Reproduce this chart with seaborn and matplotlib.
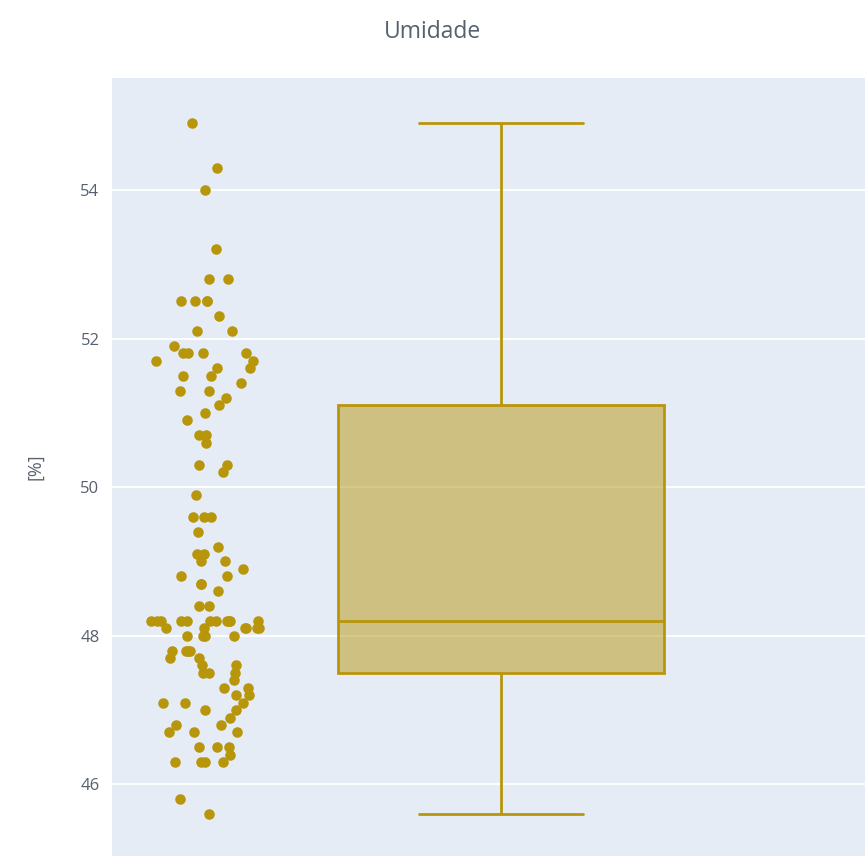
import numpy as np
import pandas as pd
import matplotlib
matplotlib.use("Agg")
import matplotlib.pyplot as plt
import seaborn as sns

# Umidade relativa medida (%)
umidade = [
    54.9, 54.3, 54.0, 53.2, 52.8, 52.8, 52.5, 52.5, 52.5, 52.5,
    52.3, 52.1, 52.1, 51.9, 51.8, 51.8, 51.8, 51.8, 51.7, 51.7,
    51.6, 51.6, 51.5, 51.5, 51.4, 51.3, 51.3, 51.2, 51.1, 51.0,
    50.9, 50.7, 50.7, 50.6, 50.3, 50.3, 50.2, 49.9, 49.6, 49.6,
    49.6, 49.4, 49.2, 49.1, 49.1, 49.0, 49.0, 48.9, 48.8, 48.8,
    48.7, 48.7, 48.6, 48.4, 48.4,
    48.2, 48.2, 48.2, 48.2, 48.2, 48.2, 48.2, 48.2, 48.2, 48.2, 48.2,
    48.1, 48.1, 48.1, 48.1, 48.1, 48.1,
    48.0, 48.0, 48.0, 48.0,
    47.8, 47.8, 47.8, 47.8, 47.7, 47.7, 47.6, 47.6, 47.5, 47.5,
    47.5, 47.4, 47.3, 47.3, 47.2, 47.2, 47.1, 47.1, 47.1, 47.0,
    47.0, 46.9, 46.8, 46.8, 46.7, 46.7, 46.7, 46.5, 46.5, 46.5,
    46.4, 46.3, 46.3, 46.3, 46.3, 45.8, 45.6,
]
titulo = "Umidade"
rotulo_y = "[%]"
ticks_y = [46, 48, 50, 52, 54]

cor = "#B8960B"
fundo = "#E5ECF6"
cor_texto = "#56606e"

n = len(umidade)
df_pontos = pd.DataFrame({"grupo": ["pontos"] * n, "valor": umidade})
df_caixa = pd.DataFrame({"grupo": ["caixa"] * n, "valor": umidade})
ordem = ["pontos", "caixa"]

sns.set_theme(style="white")
plt.rcParams["font.family"] = ["Open Sans", "DejaVu Sans"]

fig = plt.figure(figsize=(8.65, 8.56), dpi=100)
ax = fig.add_axes([112 / 865, 0.0, 753 / 865, 778 / 856])
ax.set_facecolor(fundo)

np.random.seed(7)
sns.stripplot(data=df_pontos, x="grupo", y="valor", order=ordem, ax=ax,
              color=cor, size=7.6, jitter=0.19, linewidth=0, alpha=1.0,
              zorder=3)

# Scale the jitter by local point density: sparse values stay near the centre
pts = max(ax.collections, key=lambda c: len(c.get_offsets()))
off = np.asarray(pts.get_offsets()).copy()
ordem_y = np.argsort(off[:, 1], kind="stable")
v = off[ordem_y, 1]
passo = 0.04
viz = 5
fatores = np.empty(len(v))
for i in range(len(v)):
    i0 = max(0, i - viz)
    i1 = min(len(v) - 1, i + viz)
    f = np.sqrt(passo * (i1 - i0) / (v[i1] - v[i0] + passo))
    fatores[i] = np.clip(f, 0, 1)
fatores /= fatores.max()
centro = 0.0
off[ordem_y, 0] = centro + (off[ordem_y, 0] - centro) * fatores
pts.set_offsets(off)

sns.boxplot(data=df_caixa, x="grupo", y="valor", order=ordem, ax=ax,
            color=cor, linecolor=cor, linewidth=2.0, width=1.112,
            saturation=1, whis=1.5, showfliers=False)

r, g, b = matplotlib.colors.to_rgb(cor)
for p in ax.patches:
    p.set_facecolor((r, g, b, 0.5))
    p.set_edgecolor(cor)

ax.set_xlim(-0.323, 2.238)
ax.set_ylim(45.036, 55.507)
ax.set_yticks(ticks_y)
ax.set_yticklabels([str(t) for t in ticks_y])
ax.set_xticks([])
ax.set_xlabel("")
ax.set_ylabel(rotulo_y, fontsize=13, color=cor_texto, labelpad=26)
ax.tick_params(axis="y", length=0, pad=9, labelsize=12, labelcolor=cor_texto)
ax.grid(axis="y", color="white", linewidth=1.3)
ax.grid(axis="x", visible=False)
ax.set_axisbelow(True)
for s in ax.spines.values():
    s.set_visible(False)

fig.text(0.5, 1 - 32 / 856, titulo, ha="center", va="center",
         fontsize=16.5, color=cor_texto)

fig.savefig("out.png", dpi=100, facecolor="white")
